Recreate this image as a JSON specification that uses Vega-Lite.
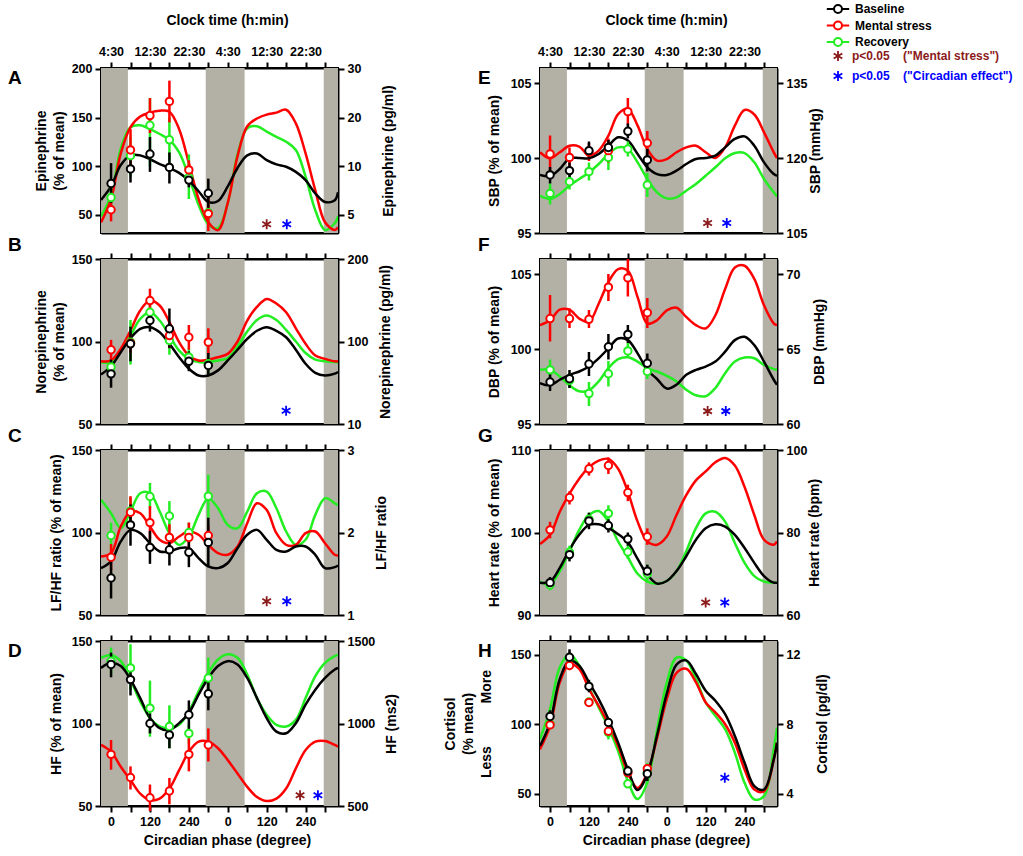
{
"$schema": "https://vega.github.io/schema/vega-lite/v6.json",
"padding": {"left": 7, "top": 1, "right": 1, "bottom": 1},
"background": "white",
"config": {
 "font": "Liberation Sans",
 "view": {"stroke": "black", "strokeWidth": 2},
 "axis": {"domainColor": "black", "domainWidth": 2, "tickColor": "black", "tickWidth": 2, "tickSize": 6, "labelFont": "Liberation Sans", "labelFontWeight": "bold", "labelFontSize": 12.5, "labelColor": "black", "labelPadding": 3, "labelFlush": false, "labelOverlap": false, "titleFont": "Liberation Sans", "titleFontWeight": "bold", "titleFontSize": 14, "titleColor": "black", "titleLineHeight": 18, "grid": false},
 "title": {"font": "Liberation Sans"}
},
"datasets": {
 "gy": [{"a": -31, "b": 52}, {"a": 292, "b": 412}, {"a": 656, "b": 700}],
 "st": [
  {"p":"A","s":"sm","x":480,"y":40},{"p":"A","s":"sc","x":542,"y":40},
  {"p":"B","s":"sc","x":540,"y":58},
  {"p":"C","s":"sm","x":480,"y":58.3},{"p":"C","s":"sc","x":542,"y":58.3},
  {"p":"D","s":"sm","x":583,"y":56.5},{"p":"D","s":"sc","x":638,"y":56.5},
  {"p":"E","s":"sm","x":486,"y":95.67},{"p":"E","s":"sc","x":545,"y":95.67},
  {"p":"F","s":"sm","x":486,"y":95.86},{"p":"F","s":"sc","x":542,"y":95.86},
  {"p":"G","s":"sm","x":480,"y":91.52},{"p":"G","s":"sc","x":539,"y":91.52},
  {"p":"H","s":"sc","x":539,"y":61.4}
 ],
 "pt": [
  {"p":"A","s":"r","x":0,"y":67.6,"lo":52,"hi":84},{"p":"A","s":"r","x":60,"y":110.7,"lo":89,"hi":130},{"p":"A","s":"r","x":120,"y":142,"lo":100,"hi":170},{"p":"A","s":"r","x":180,"y":127,"lo":105,"hi":150},{"p":"A","s":"r","x":240,"y":88,"lo":66,"hi":112},{"p":"A","s":"r","x":300,"y":52,"lo":44,"hi":62},
  {"p":"A","s":"m","x":0,"y":55,"lo":43,"hi":67},{"p":"A","s":"m","x":60,"y":116.6,"lo":95,"hi":138},{"p":"A","s":"m","x":120,"y":152,"lo":134,"hi":170},{"p":"A","s":"m","x":180,"y":166.6,"lo":145,"hi":188},{"p":"A","s":"m","x":240,"y":96,"lo":86,"hi":106},{"p":"A","s":"m","x":300,"y":51,"lo":33,"hi":69},
  {"p":"A","s":"b","x":0,"y":82,"lo":62,"hi":103},{"p":"A","s":"b","x":60,"y":97,"lo":83,"hi":111},{"p":"A","s":"b","x":120,"y":112.4,"lo":94,"hi":130},{"p":"A","s":"b","x":180,"y":98.6,"lo":82,"hi":114},{"p":"A","s":"b","x":240,"y":85.5,"lo":78,"hi":93},{"p":"A","s":"b","x":300,"y":72,"lo":57,"hi":87},

  {"p":"B","s":"r","x":0,"y":84.5,"lo":80,"hi":89},{"p":"B","s":"r","x":60,"y":99.6,"lo":86,"hi":113},{"p":"B","s":"r","x":120,"y":117.7,"lo":112,"hi":124},{"p":"B","s":"r","x":180,"y":100.6,"lo":92,"hi":108},{"p":"B","s":"r","x":240,"y":90.5,"lo":85,"hi":96},{"p":"B","s":"r","x":300,"y":86.5,"lo":81,"hi":92},
  {"p":"B","s":"m","x":0,"y":95,"lo":89,"hi":101},{"p":"B","s":"m","x":60,"y":99,"lo":93,"hi":105},{"p":"B","s":"m","x":120,"y":124.8,"lo":118,"hi":132},{"p":"B","s":"m","x":180,"y":103.6,"lo":96,"hi":111},{"p":"B","s":"m","x":240,"y":102.6,"lo":95,"hi":110},{"p":"B","s":"m","x":300,"y":99.6,"lo":92,"hi":108},
  {"p":"B","s":"b","x":0,"y":80.4,"lo":72,"hi":89},{"p":"B","s":"b","x":60,"y":98.6,"lo":88,"hi":109},{"p":"B","s":"b","x":120,"y":112.7,"lo":106,"hi":120},{"p":"B","s":"b","x":180,"y":107.7,"lo":96,"hi":120},{"p":"B","s":"b","x":240,"y":88,"lo":82,"hi":94},{"p":"B","s":"b","x":300,"y":85.5,"lo":79,"hi":93},

  {"p":"C","s":"r","x":0,"y":98.2,"lo":90,"hi":106},{"p":"C","s":"r","x":60,"y":113,"lo":105,"hi":121},{"p":"C","s":"r","x":120,"y":121.8,"lo":114,"hi":130},{"p":"C","s":"r","x":180,"y":110,"lo":101,"hi":119},{"p":"C","s":"r","x":240,"y":100,"lo":94,"hi":106},{"p":"C","s":"r","x":300,"y":122,"lo":109,"hi":135},
  {"p":"C","s":"m","x":0,"y":85,"lo":77,"hi":93},{"p":"C","s":"m","x":60,"y":112.3,"lo":103,"hi":122},{"p":"C","s":"m","x":120,"y":106,"lo":96,"hi":116},{"p":"C","s":"m","x":180,"y":97,"lo":89,"hi":105},{"p":"C","s":"m","x":240,"y":97,"lo":88,"hi":106},{"p":"C","s":"m","x":300,"y":98.2,"lo":92,"hi":104},
  {"p":"C","s":"b","x":0,"y":72.4,"lo":60,"hi":85},{"p":"C","s":"b","x":60,"y":104.6,"lo":92,"hi":117},{"p":"C","s":"b","x":120,"y":91,"lo":81,"hi":101},{"p":"C","s":"b","x":180,"y":89.5,"lo":80,"hi":99},{"p":"C","s":"b","x":240,"y":88,"lo":79,"hi":97},{"p":"C","s":"b","x":300,"y":94,"lo":79,"hi":109},

  {"p":"D","s":"r","x":0,"y":137.8,"lo":130,"hi":146},{"p":"D","s":"r","x":60,"y":133.7,"lo":120,"hi":148},{"p":"D","s":"r","x":120,"y":109.3,"lo":92,"hi":126},{"p":"D","s":"r","x":180,"y":98.2,"lo":85,"hi":111},{"p":"D","s":"r","x":240,"y":94,"lo":88,"hi":100},{"p":"D","s":"r","x":300,"y":127.6,"lo":115,"hi":140},
  {"p":"D","s":"m","x":0,"y":81.3,"lo":72,"hi":90},{"p":"D","s":"m","x":60,"y":67.3,"lo":60,"hi":74},{"p":"D","s":"m","x":120,"y":55,"lo":47,"hi":63},{"p":"D","s":"m","x":180,"y":59.1,"lo":51,"hi":67},{"p":"D","s":"m","x":240,"y":81.3,"lo":71,"hi":91},{"p":"D","s":"m","x":300,"y":87,"lo":77,"hi":97},
  {"p":"D","s":"b","x":0,"y":135.8,"lo":128,"hi":143},{"p":"D","s":"b","x":60,"y":126.6,"lo":117,"hi":136},{"p":"D","s":"b","x":120,"y":100,"lo":94,"hi":106},{"p":"D","s":"b","x":180,"y":93.1,"lo":85,"hi":101},{"p":"D","s":"b","x":240,"y":105.3,"lo":96,"hi":114},{"p":"D","s":"b","x":300,"y":118,"lo":108,"hi":128},

  {"p":"E","s":"r","x":0,"y":97.64,"lo":96.9,"hi":98.3},{"p":"E","s":"r","x":60,"y":98.42,"lo":97.9,"hi":98.9},{"p":"E","s":"r","x":120,"y":99.09,"lo":98.5,"hi":99.7},{"p":"E","s":"r","x":180,"y":100.04,"lo":99.2,"hi":100.9},{"p":"E","s":"r","x":240,"y":100.6,"lo":100.1,"hi":101.1},{"p":"E","s":"r","x":300,"y":98.2,"lo":97.4,"hi":99},
  {"p":"E","s":"m","x":0,"y":100.27,"lo":99.1,"hi":101.5},{"p":"E","s":"m","x":60,"y":100.04,"lo":99.4,"hi":100.7},{"p":"E","s":"m","x":120,"y":100.4,"lo":99.8,"hi":101},{"p":"E","s":"m","x":180,"y":100.49,"lo":99.7,"hi":101.3},{"p":"E","s":"m","x":240,"y":103.09,"lo":102.2,"hi":104},{"p":"E","s":"m","x":300,"y":101,"lo":100.2,"hi":101.8},
  {"p":"E","s":"b","x":0,"y":98.87,"lo":98.3,"hi":99.4},{"p":"E","s":"b","x":60,"y":99.16,"lo":98.7,"hi":99.7},{"p":"E","s":"b","x":120,"y":100.49,"lo":99.9,"hi":101.1},{"p":"E","s":"b","x":180,"y":100.7,"lo":100.2,"hi":101.2},{"p":"E","s":"b","x":240,"y":101.78,"lo":101.3,"hi":102.3},{"p":"E","s":"b","x":300,"y":99.87,"lo":99.1,"hi":100.6},

  {"p":"F","s":"r","x":0,"y":98.61,"lo":97.9,"hi":99.3},{"p":"F","s":"r","x":60,"y":97.9,"lo":97.4,"hi":98.4},{"p":"F","s":"r","x":120,"y":97.03,"lo":96.2,"hi":97.8},{"p":"F","s":"r","x":180,"y":98.35,"lo":97.5,"hi":99.2},{"p":"F","s":"r","x":240,"y":99.87,"lo":99.4,"hi":100.4},{"p":"F","s":"r","x":300,"y":98.5,"lo":98,"hi":99},
  {"p":"F","s":"m","x":0,"y":102.03,"lo":100.5,"hi":103.6},{"p":"F","s":"m","x":60,"y":102.03,"lo":101.4,"hi":102.7},{"p":"F","s":"m","x":120,"y":101.98,"lo":101.4,"hi":102.6},{"p":"F","s":"m","x":180,"y":104.12,"lo":103.2,"hi":105},{"p":"F","s":"m","x":240,"y":104.74,"lo":103.5,"hi":106},{"p":"F","s":"m","x":300,"y":102.42,"lo":101.4,"hi":103.4},
  {"p":"F","s":"b","x":0,"y":97.8,"lo":97.2,"hi":98.4},{"p":"F","s":"b","x":60,"y":98.02,"lo":97.4,"hi":98.6},{"p":"F","s":"b","x":120,"y":99,"lo":98.2,"hi":99.8},{"p":"F","s":"b","x":180,"y":100.15,"lo":99.3,"hi":101},{"p":"F","s":"b","x":240,"y":100.97,"lo":100.4,"hi":101.6},{"p":"F","s":"b","x":300,"y":99.05,"lo":98.4,"hi":99.7},

  {"p":"G","s":"r","x":0,"y":93.64,"lo":93,"hi":94.3},{"p":"G","s":"r","x":60,"y":97.6,"lo":96.8,"hi":98.4},{"p":"G","s":"r","x":120,"y":101.6,"lo":100.8,"hi":102.4},{"p":"G","s":"r","x":180,"y":102.32,"lo":101.3,"hi":103.3},{"p":"G","s":"r","x":240,"y":97.64,"lo":96.8,"hi":98.5},{"p":"G","s":"r","x":300,"y":95,"lo":93.9,"hi":96.1},
  {"p":"G","s":"m","x":0,"y":100.32,"lo":99.3,"hi":101.3},{"p":"G","s":"m","x":60,"y":104.24,"lo":103.4,"hi":105},{"p":"G","s":"m","x":120,"y":107.72,"lo":106.9,"hi":108.5},{"p":"G","s":"m","x":180,"y":108.12,"lo":107.1,"hi":109.1},{"p":"G","s":"m","x":240,"y":104.84,"lo":103.8,"hi":105.8},{"p":"G","s":"m","x":300,"y":99.48,"lo":98.5,"hi":100.5},
  {"p":"G","s":"b","x":0,"y":93.92,"lo":93.2,"hi":94.6},{"p":"G","s":"b","x":60,"y":97.32,"lo":96.5,"hi":98.1},{"p":"G","s":"b","x":120,"y":101.4,"lo":100.4,"hi":102.4},{"p":"G","s":"b","x":180,"y":100.84,"lo":100,"hi":101.6},{"p":"G","s":"b","x":240,"y":99.2,"lo":98.4,"hi":100},{"p":"G","s":"b","x":300,"y":95.32,"lo":94.5,"hi":96.1},

  {"p":"H","s":"r","x":0,"y":100,"lo":97,"hi":103},{"p":"H","s":"r","x":60,"y":148,"lo":145,"hi":151},{"p":"H","s":"r","x":120,"y":116,"lo":113,"hi":119},{"p":"H","s":"r","x":180,"y":94,"lo":89,"hi":98},{"p":"H","s":"r","x":240,"y":57,"lo":55,"hi":59},{"p":"H","s":"r","x":300,"y":65,"lo":58,"hi":72},
  {"p":"H","s":"m","x":0,"y":99.5,"lo":97,"hi":102},{"p":"H","s":"m","x":60,"y":142.3,"lo":139,"hi":145},{"p":"H","s":"m","x":120,"y":115.7,"lo":113,"hi":118},{"p":"H","s":"m","x":180,"y":94.9,"lo":92,"hi":98},{"p":"H","s":"m","x":240,"y":65,"lo":62,"hi":68},{"p":"H","s":"m","x":300,"y":67.9,"lo":64,"hi":71},
  {"p":"H","s":"b","x":0,"y":105.6,"lo":102,"hi":110},{"p":"H","s":"b","x":60,"y":148.3,"lo":143,"hi":154},{"p":"H","s":"b","x":120,"y":127.3,"lo":123,"hi":132},{"p":"H","s":"b","x":180,"y":101.2,"lo":98,"hi":104},{"p":"H","s":"b","x":240,"y":66.2,"lo":63,"hi":70},{"p":"H","s":"b","x":300,"y":64.3,"lo":59,"hi":68}
 ],
 "cv": [
  {"p":"A","x":-31,"b":65,"m":42,"r":48},{"p":"A","x":0,"b":79,"m":66,"r":70},{"p":"A","x":30,"b":101,"m":113,"r":118},{"p":"A","x":60,"b":111,"m":140,"r":140},{"p":"A","x":90,"b":111,"m":151,"r":142},{"p":"A","x":120,"b":107,"m":155,"r":138},{"p":"A","x":150,"b":102,"m":157,"r":133},{"p":"A","x":180,"b":98,"m":156,"r":127},{"p":"A","x":210,"b":93,"m":138,"r":114},{"p":"A","x":240,"b":85,"m":103,"r":89},{"p":"A","x":270,"b":74,"m":66,"r":60},{"p":"A","x":300,"b":63,"m":42,"r":40},{"p":"A","x":330,"b":64,"m":34,"r":36},{"p":"A","x":360,"b":79,"m":62,"r":62},{"p":"A","x":390,"b":98,"m":110,"r":112},{"p":"A","x":420,"b":111,"m":141,"r":139},{"p":"A","x":450,"b":113,"m":149,"r":141},{"p":"A","x":480,"b":106,"m":153,"r":135.5},{"p":"A","x":510,"b":101.7,"m":155,"r":130},{"p":"A","x":540,"b":99.3,"m":158,"r":125},{"p":"A","x":570,"b":94,"m":144,"r":116.6},{"p":"A","x":600,"b":85.5,"m":113,"r":89},{"p":"A","x":630,"b":71.7,"m":75,"r":54.5},{"p":"A","x":660,"b":63,"m":42,"r":34},{"p":"A","x":690,"b":64.8,"m":34,"r":41},{"p":"A","x":700,"b":73,"m":37,"r":48},

  {"p":"B","x":-31,"b":80,"m":88,"r":87.5},{"p":"B","x":0,"b":85,"m":88.5,"r":87.5},{"p":"B","x":30,"b":93.5,"m":95.6,"r":94.5},{"p":"B","x":60,"b":102,"m":106.7,"r":103.6},{"p":"B","x":90,"b":107.7,"m":118.8,"r":113.7},{"p":"B","x":120,"b":108.7,"m":124.8,"r":117.7},{"p":"B","x":150,"b":105.6,"m":121.8,"r":112.7},{"p":"B","x":180,"b":98.6,"m":111.7,"r":103.6},{"p":"B","x":210,"b":90.5,"m":99.6,"r":94.5},{"p":"B","x":240,"b":83.5,"m":91.5,"r":89.5},{"p":"B","x":270,"b":79.4,"m":88.5,"r":87.5},{"p":"B","x":300,"b":79.4,"m":89,"r":87.5},{"p":"B","x":330,"b":82.5,"m":90.5,"r":88.5},{"p":"B","x":360,"b":88.5,"m":92.5,"r":90},{"p":"B","x":390,"b":95,"m":100,"r":97},{"p":"B","x":420,"b":101.6,"m":112.7,"r":106},{"p":"B","x":450,"b":106.5,"m":121,"r":113},{"p":"B","x":480,"b":108.7,"m":125.8,"r":115.7},{"p":"B","x":510,"b":106.5,"m":123,"r":113},{"p":"B","x":540,"b":102.6,"m":117.7,"r":107},{"p":"B","x":570,"b":95,"m":108,"r":100},{"p":"B","x":600,"b":86.5,"m":98.6,"r":93},{"p":"B","x":630,"b":81,"m":91.5,"r":89},{"p":"B","x":660,"b":79.4,"m":89.5,"r":88},{"p":"B","x":690,"b":80.5,"m":88,"r":87.5},{"p":"B","x":700,"b":81.5,"m":88,"r":87.5},

  {"p":"C","x":-31,"b":78.4,"m":85.5,"r":119.8},{"p":"C","x":0,"b":82.5,"m":87.5,"r":111.7},{"p":"C","x":30,"b":94.6,"m":103.6,"r":102.6},{"p":"C","x":60,"b":101.6,"m":112.7,"r":112.7},{"p":"C","x":90,"b":99.6,"m":111.7,"r":123.8},{"p":"C","x":120,"b":93.5,"m":103.6,"r":123.8},{"p":"C","x":150,"b":88.5,"m":95.6,"r":112.7},{"p":"C","x":180,"b":88.5,"m":93.5,"r":99.6},{"p":"C","x":210,"b":90.5,"m":97.6,"r":92.5},{"p":"C","x":240,"b":90.5,"m":100.6,"r":97.6},{"p":"C","x":270,"b":84.5,"m":98.6,"r":110.7},{"p":"C","x":300,"b":79.4,"m":92.5,"r":120.8},{"p":"C","x":330,"b":78.4,"m":87.5,"r":114.7},{"p":"C","x":360,"b":81.5,"m":86.5,"r":104.6},{"p":"C","x":390,"b":90.5,"m":91.5,"r":102.6},{"p":"C","x":420,"b":98.6,"m":105.6,"r":112.7},{"p":"C","x":450,"b":101.6,"m":117.7,"r":123.8},{"p":"C","x":480,"b":95.6,"m":113.7,"r":124.8},{"p":"C","x":510,"b":89.5,"m":99.6,"r":114.7},{"p":"C","x":540,"b":88.5,"m":92.5,"r":100.6},{"p":"C","x":570,"b":91.5,"m":92.5,"r":92.5},{"p":"C","x":600,"b":91.5,"m":99.6,"r":95.6},{"p":"C","x":630,"b":86.5,"m":100.6,"r":110.7},{"p":"C","x":660,"b":78.4,"m":93.5,"r":120.8},{"p":"C","x":690,"b":79,"m":86.5,"r":117.7},{"p":"C","x":700,"b":80,"m":86,"r":116.5},

  {"p":"D","x":-31,"b":133.7,"m":87,"r":139.8},{"p":"D","x":0,"b":136.8,"m":82.9,"r":141.5},{"p":"D","x":30,"b":134.8,"m":73.8,"r":137.8},{"p":"D","x":60,"b":126.6,"m":65.7,"r":126.6},{"p":"D","x":90,"b":115.4,"m":57.5,"r":113.4},{"p":"D","x":120,"b":103.3,"m":53.5,"r":103.3},{"p":"D","x":150,"b":97.2,"m":54.5,"r":98.2},{"p":"D","x":180,"b":96.1,"m":60.6,"r":97.2},{"p":"D","x":210,"b":100.2,"m":71.7,"r":99.2},{"p":"D","x":240,"b":106.3,"m":82.9,"r":107.3},{"p":"D","x":270,"b":117.5,"m":89,"r":119.5},{"p":"D","x":300,"b":127.6,"m":89,"r":130.7},{"p":"D","x":330,"b":134.8,"m":85,"r":138.8},{"p":"D","x":360,"b":137.8,"m":77.8,"r":141.9},{"p":"D","x":390,"b":135.8,"m":69.7,"r":139.8},{"p":"D","x":420,"b":127.6,"m":61.6,"r":129.7},{"p":"D","x":450,"b":115.4,"m":55.5,"r":115.4},{"p":"D","x":480,"b":103.3,"m":53,"r":105.3},{"p":"D","x":510,"b":95.1,"m":54.5,"r":99.2},{"p":"D","x":540,"b":94.1,"m":60.6,"r":98.2},{"p":"D","x":570,"b":100.2,"m":72.8,"r":102.2},{"p":"D","x":600,"b":111.4,"m":83.9,"r":115.4},{"p":"D","x":630,"b":120.5,"m":89,"r":128.7},{"p":"D","x":660,"b":127.6,"m":89.4,"r":136.8},{"p":"D","x":690,"b":132.7,"m":87,"r":140.9},{"p":"D","x":700,"b":133.7,"m":86,"r":141.5},

  {"p":"E","x":-31,"b":98.87,"m":100.38,"r":97.49},{"p":"E","x":0,"b":98.8,"m":99.98,"r":97.27},{"p":"E","x":30,"b":99.27,"m":100.38,"r":97.6},{"p":"E","x":60,"b":99.98,"m":100.82,"r":98.16},{"p":"E","x":90,"b":100,"m":100.76,"r":98.6},{"p":"E","x":120,"b":99.98,"m":100.16,"r":99.04},{"p":"E","x":150,"b":100.27,"m":100.49,"r":99.6},{"p":"E","x":180,"b":100.82,"m":101.49,"r":100.27},{"p":"E","x":210,"b":101.38,"m":102.93,"r":100.71},{"p":"E","x":240,"b":101.16,"m":103.27,"r":100.6},{"p":"E","x":270,"b":100.27,"m":102.16,"r":99.71},{"p":"E","x":300,"b":99.38,"m":100.6,"r":98.6},{"p":"E","x":330,"b":98.93,"m":99.82,"r":97.71},{"p":"E","x":360,"b":98.87,"m":99.93,"r":97.31},{"p":"E","x":390,"b":99.16,"m":100.38,"r":97.38},{"p":"E","x":420,"b":99.6,"m":100.71,"r":97.82},{"p":"E","x":450,"b":99.93,"m":100.82,"r":98.27},{"p":"E","x":480,"b":100,"m":100.38,"r":98.82},{"p":"E","x":510,"b":100.16,"m":100,"r":99.38},{"p":"E","x":540,"b":100.71,"m":100.71,"r":99.98},{"p":"E","x":570,"b":101.27,"m":102.16,"r":100.33},{"p":"E","x":600,"b":101.44,"m":103.2,"r":100.33},{"p":"E","x":630,"b":100.82,"m":102.9,"r":99.71},{"p":"E","x":660,"b":99.71,"m":101.71,"r":98.6},{"p":"E","x":690,"b":98.93,"m":100.38,"r":97.71},{"p":"E","x":700,"b":98.82,"m":100,"r":97.44},

  {"p":"F","x":-31,"b":97.73,"m":101.59,"r":98.61},{"p":"F","x":0,"b":97.58,"m":101.92,"r":98.61},{"p":"F","x":30,"b":97.95,"m":102.62,"r":98.17},{"p":"F","x":60,"b":98.28,"m":102.62,"r":97.58},{"p":"F","x":90,"b":98.5,"m":102.03,"r":97.18},{"p":"F","x":120,"b":98.83,"m":101.81,"r":97.25},{"p":"F","x":150,"b":99.38,"m":103.02,"r":97.84},{"p":"F","x":180,"b":100.04,"m":104.45,"r":98.72},{"p":"F","x":210,"b":100.7,"m":105.33,"r":99.32},{"p":"F","x":240,"b":100.59,"m":105.22,"r":99.45},{"p":"F","x":270,"b":99.71,"m":103.46,"r":99.16},{"p":"F","x":300,"b":98.61,"m":101.7,"r":98.72},{"p":"F","x":330,"b":98,"m":101.92,"r":98.5},{"p":"F","x":360,"b":97.36,"m":102.58,"r":98.21},{"p":"F","x":390,"b":97.62,"m":102.75,"r":97.84},{"p":"F","x":420,"b":98.28,"m":102.14,"r":97.29},{"p":"F","x":450,"b":98.61,"m":101.59,"r":96.92},{"p":"F","x":480,"b":98.83,"m":101.37,"r":96.85},{"p":"F","x":510,"b":99.16,"m":102.25,"r":97.4},{"p":"F","x":540,"b":99.82,"m":104,"r":98.39},{"p":"F","x":570,"b":100.59,"m":105.44,"r":99.16},{"p":"F","x":600,"b":100.81,"m":105.55,"r":99.43},{"p":"F","x":630,"b":100.26,"m":104.67,"r":99.38},{"p":"F","x":660,"b":99.16,"m":102.91,"r":98.94},{"p":"F","x":690,"b":97.95,"m":101.7,"r":98.66},{"p":"F","x":700,"b":97.62,"m":101.59,"r":98.61},

  {"p":"G","x":-31,"b":93.92,"m":98.6,"r":94.04},{"p":"G","x":0,"b":94.04,"m":99.72,"r":93.72},{"p":"G","x":30,"b":95.72,"m":102.52,"r":95.32},{"p":"G","x":60,"b":97.92,"m":104.72,"r":97.72},{"p":"G","x":90,"b":99.72,"m":106.52,"r":100.32},{"p":"G","x":120,"b":100.92,"m":107.92,"r":102.12},{"p":"G","x":150,"b":101,"m":108.72,"r":102.6},{"p":"G","x":180,"b":100.52,"m":108.92,"r":101.32},{"p":"G","x":210,"b":99.8,"m":107.72,"r":98.92},{"p":"G","x":240,"b":98.8,"m":104.92,"r":97},{"p":"G","x":270,"b":96.8,"m":101.32,"r":95},{"p":"G","x":300,"b":94.9,"m":98.92,"r":94.04},{"p":"G","x":330,"b":93.8,"m":98.52,"r":93.8},{"p":"G","x":360,"b":94.12,"m":99.52,"r":94.12},{"p":"G","x":390,"b":95.32,"m":102.12,"r":95.32},{"p":"G","x":420,"b":97.12,"m":104.52,"r":97.72},{"p":"G","x":450,"b":99.12,"m":106.32,"r":100.52},{"p":"G","x":480,"b":100.52,"m":107.4,"r":102.32},{"p":"G","x":510,"b":101,"m":108.52,"r":102.52},{"p":"G","x":540,"b":100.72,"m":109.04,"r":101.32},{"p":"G","x":570,"b":99.72,"m":108.12,"r":98.72},{"p":"G","x":600,"b":98.12,"m":105.52,"r":96.32},{"p":"G","x":630,"b":96.32,"m":102.12,"r":94.72},{"p":"G","x":660,"b":94.72,"m":99.12,"r":94.04},{"p":"G","x":690,"b":93.92,"m":98.52,"r":93.92},{"p":"G","x":700,"b":93.92,"m":98.92,"r":93.92},

  {"p":"H","x":-31,"b":84.3,"m":81.9,"r":89.1},{"p":"H","x":0,"b":101.2,"m":98.8,"r":110.9},{"p":"H","x":30,"b":132.6,"m":130.2,"r":141.1},{"p":"H","x":60,"b":145.9,"m":143.5,"r":150.7},{"p":"H","x":90,"b":142.3,"m":139.9,"r":142.3},{"p":"H","x":120,"b":130.2,"m":125.4,"r":126.6},{"p":"H","x":150,"b":118.1,"m":113.3,"r":112.1},{"p":"H","x":180,"b":103.6,"m":100,"r":97.6},{"p":"H","x":210,"b":86.7,"m":84.3,"r":80.7},{"p":"H","x":240,"b":67.4,"m":65,"r":58.9},{"p":"H","x":270,"b":52.5,"m":54,"r":46},{"p":"H","x":300,"b":64,"m":65,"r":58},{"p":"H","x":330,"b":92,"m":90,"r":96},{"p":"H","x":360,"b":122,"m":118,"r":130},{"p":"H","x":390,"b":143,"m":137,"r":148},{"p":"H","x":420,"b":146,"m":140,"r":146},{"p":"H","x":450,"b":136.2,"m":130.2,"r":132.6},{"p":"H","x":480,"b":124.2,"m":115.7,"r":115.7},{"p":"H","x":510,"b":116.9,"m":108.5,"r":106},{"p":"H","x":540,"b":107.2,"m":100,"r":96.4},{"p":"H","x":570,"b":91.5,"m":86.7,"r":79.5},{"p":"H","x":600,"b":72.2,"m":67.4,"r":57.7},{"p":"H","x":630,"b":55.3,"m":52.9,"r":45.7},{"p":"H","x":660,"b":52.9,"m":51.7,"r":48.1},{"p":"H","x":690,"b":74.6,"m":74.6,"r":81.9},{"p":"H","x":700,"b":86.7,"m":86.7,"r":97.6}
 ]
},
"columns": 2,
"bounds": "flush",
"spacing": {"row": 26, "column": 202},
"concat": [
 {"width": 237, "height": 165,
  "title": {"text": "A", "anchor": "start", "frame": "group", "dx": -93, "dy": 75, "baseline": "top", "fontSize": 19, "fontWeight": "bold", "offset": 0, "color": "black"},
  "layer": [
   {"data": {"name": "gy"}, "mark": {"type": "rect", "color": "#b3b1a6"}, "encoding": {"x": {"field": "a", "type": "quantitative", "scale": {"domain": [-31, 700], "nice": false, "zero": false}, "axis": {"orient": "top", "values": [0,60,120,180,240,300,360,420,480,540,600,660], "labelExpr": "datum.value % 120 == 0 ? ['4:30','12:30','22:30'][(datum.value % 360) / 120] : ''", "title": "Clock time (h:min)", "titleX": 126, "titlePadding": 18, "labelPadding": 4}}, "x2": {"field": "b"}}},
   {"data": {"name": "cv"}, "transform": [{"filter": "datum.p == 'A'"}, {"fold": ["r","m","b"], "as": ["s","y"]}], "mark": {"type": "line", "interpolate": "catmull-rom", "strokeWidth": 2.5, "clip": true}, "encoding": {"x": {"field": "x", "type": "quantitative", "axis": {"orient": "bottom", "ticks": false, "labels": false, "title": null}}, "y": {"field": "y", "type": "quantitative", "scale": {"domain": [31, 201], "nice": false, "zero": false}, "axis": {"orient": "left", "values": [50,100,150,200], "title": ["Epinephrine", "(% of mean)"], "titleAngle": 270, "titleBaseline": "bottom", "titleX": -53}},
     "stroke": {"field": "s", "type": "nominal", "scale": {"domain": ["b","m","r"], "range": ["#000000","#ff0000","#22ee22"]},
      "legend": {"orient": "none", "legendX": 729, "legendY": -67, "title": null, "padding": 0, "symbolSize": 196, "symbolStrokeWidth": 2, "symbolFillColor": "white", "symbolOpacity": 1, "labelOffset": 9, "rowPadding": 0.5, "labelFont": "Liberation Sans", "labelFontSize": 12, "labelFontWeight": "bold", "labelColor": "black", "labelLimit": 300,
       "labelExpr": "datum.value == 'b' ? 'Baseline' : datum.value == 'm' ? 'Mental stress' : 'Recovery'",
       "symbolType": "M-1.6,0L-0.57,0M0.57,0L1.6,0M0.57,0A0.57,0.57,0,1,1,-0.57,0A0.57,0.57,0,1,1,0.57,0"}}}},
   {"data": {"name": "pt"}, "transform": [{"filter": "datum.p == 'A'"}], "mark": {"type": "rule", "strokeWidth": 2.5}, "encoding": {"x": {"field": "x", "type": "quantitative", "axis": null}, "y": {"field": "lo", "type": "quantitative", "axis": null}, "y2": {"field": "hi"}, "stroke": {"field": "s", "type": "nominal", "legend": null}}},
   {"data": {"name": "pt"}, "transform": [{"filter": "datum.p == 'A'"}], "mark": {"type": "point", "shape": "circle", "filled": false, "fill": "white", "size": 55, "strokeWidth": 2, "opacity": 1}, "encoding": {"x": {"field": "x", "type": "quantitative", "axis": null}, "y": {"field": "y", "type": "quantitative", "axis": {"orient": "right", "values": [50,100,150,200], "labelExpr": "datum.value == 200 ? '30' : datum.value == 150 ? '20' : datum.value == 100 ? '10' : '5'", "title": "Epinephrine (pg/ml)", "titleAngle": 270, "titleBaseline": "top", "titleX": 43}}, "stroke": {"field": "s", "type": "nominal", "legend": null}}},
   {"data": {"name": "st"}, "transform": [{"filter": "datum.p == 'A' && datum.s == 'sm'"}], "mark": {"type": "point", "shape": "M-0.18,-1L0.18,-1L0.18,1L-0.18,1ZM0.776,-0.656L0.956,-0.344L-0.776,0.656L-0.956,0.344ZM-0.956,-0.344L-0.776,-0.656L0.956,0.344L0.776,0.656Z", "filled": true, "size": 100, "strokeWidth": 0, "opacity": 1}, "encoding": {"x": {"field": "x", "type": "quantitative", "axis": null}, "y": {"field": "y", "type": "quantitative", "axis": null},
     "fill": {"field": "s", "type": "nominal", "scale": {"domain": ["sm"], "range": ["#8b1a1a"]},
      "legend": {"orient": "none", "legendX": 731, "legendY": -18, "title": null, "padding": 0, "symbolSize": 100, "symbolType": "M-0.18,-1L0.18,-1L0.18,1L-0.18,1ZM0.776,-0.656L0.956,-0.344L-0.776,0.656L-0.956,0.344ZM-0.956,-0.344L-0.776,-0.656L0.956,0.344L0.776,0.656Z", "symbolStrokeWidth": 0, "symbolOpacity": 1, "labelOffset": 8, "labelFont": "Liberation Sans", "labelFontSize": 12, "labelFontWeight": "bold", "labelColor": "#8b1a1a", "labelLimit": 300, "labelExpr": "'p<0.05\u00a0\u00a0\u00a0\u00a0(\"Mental stress\")'"}}}},
   {"data": {"name": "st"}, "transform": [{"filter": "datum.p == 'A' && datum.s == 'sc'"}], "mark": {"type": "point", "filled": true, "color": "#0000ff", "size": 100, "strokeWidth": 0, "opacity": 1}, "encoding": {"x": {"field": "x", "type": "quantitative", "axis": null}, "y": {"field": "y", "type": "quantitative", "axis": null},
     "shape": {"field": "s", "type": "nominal", "scale": {"domain": ["sc"], "range": ["M-0.18,-1L0.18,-1L0.18,1L-0.18,1ZM0.776,-0.656L0.956,-0.344L-0.776,0.656L-0.956,0.344ZM-0.956,-0.344L-0.776,-0.656L0.956,0.344L0.776,0.656Z"]},
      "legend": {"orient": "none", "legendX": 731, "legendY": 2, "title": null, "padding": 0, "symbolSize": 100, "symbolFillColor": "#0000ff", "symbolStrokeColor": "#0000ff", "symbolStrokeWidth": 0, "symbolOpacity": 1, "labelOffset": 8, "labelFont": "Liberation Sans", "labelFontSize": 12, "labelFontWeight": "bold", "labelColor": "#0000ff", "labelLimit": 300, "labelExpr": "'p<0.05\u00a0\u00a0\u00a0\u00a0(\"Circadian effect\")'"}}}}
  ],
  "resolve": {"axis": {"x": "independent", "y": "independent"}}
 },
 {"width": 237, "height": 165,
  "title": {"text": "E", "anchor": "start", "frame": "group", "dx": -62, "dy": 75, "baseline": "top", "fontSize": 19, "fontWeight": "bold", "offset": 0, "color": "black"},
  "layer": [
   {"data": {"name": "gy"}, "mark": {"type": "rect", "color": "#b3b1a6"}, "encoding": {"x": {"field": "a", "type": "quantitative", "scale": {"domain": [-31, 700], "nice": false, "zero": false}, "axis": {"orient": "top", "values": [0,60,120,180,240,300,360,420,480,540,600,660], "labelExpr": "datum.value % 120 == 0 ? ['4:30','12:30','22:30'][(datum.value % 360) / 120] : ''", "title": "Clock time (h:min)", "titleX": 126, "titlePadding": 18, "labelPadding": 4}}, "x2": {"field": "b"}}},
   {"data": {"name": "cv"}, "transform": [{"filter": "datum.p == 'E'"}, {"fold": ["r","m","b"], "as": ["s","y"]}], "mark": {"type": "line", "interpolate": "catmull-rom", "strokeWidth": 2.5, "clip": true}, "encoding": {"x": {"field": "x", "type": "quantitative", "axis": {"orient": "bottom", "ticks": false, "labels": false, "title": null}}, "y": {"field": "y", "type": "quantitative", "scale": {"domain": [95, 106], "nice": false, "zero": false}, "axis": {"orient": "left", "values": [95,100,105], "title": "SBP (% of mean)", "titleAngle": 270, "titleBaseline": "bottom", "titleX": -39}}, "stroke": {"field": "s", "type": "nominal", "legend": null}}},
   {"data": {"name": "pt"}, "transform": [{"filter": "datum.p == 'E'"}], "mark": {"type": "rule", "strokeWidth": 2.5}, "encoding": {"x": {"field": "x", "type": "quantitative", "axis": null}, "y": {"field": "lo", "type": "quantitative", "axis": null}, "y2": {"field": "hi"}, "stroke": {"field": "s", "type": "nominal", "legend": null}}},
   {"data": {"name": "pt"}, "transform": [{"filter": "datum.p == 'E'"}], "mark": {"type": "point", "shape": "circle", "filled": false, "fill": "white", "size": 55, "strokeWidth": 2, "opacity": 1}, "encoding": {"x": {"field": "x", "type": "quantitative", "axis": null}, "y": {"field": "y", "type": "quantitative", "axis": {"orient": "right", "values": [95,100,105], "labelExpr": "datum.value == 105 ? '135' : datum.value == 100 ? '120' : '105'", "title": "SBP (mmHg)", "titleAngle": 270, "titleBaseline": "top", "titleX": 31}}, "stroke": {"field": "s", "type": "nominal", "legend": null}}},
   {"data": {"name": "st"}, "transform": [{"filter": "datum.p == 'E' && datum.s == 'sm'"}], "mark": {"type": "point", "shape": "M-0.18,-1L0.18,-1L0.18,1L-0.18,1ZM0.776,-0.656L0.956,-0.344L-0.776,0.656L-0.956,0.344ZM-0.956,-0.344L-0.776,-0.656L0.956,0.344L0.776,0.656Z", "filled": true, "size": 100, "strokeWidth": 0, "opacity": 1}, "encoding": {"x": {"field": "x", "type": "quantitative", "axis": null}, "y": {"field": "y", "type": "quantitative", "axis": null}, "fill": {"field": "s", "type": "nominal", "legend": null}}},
   {"data": {"name": "st"}, "transform": [{"filter": "datum.p == 'E' && datum.s == 'sc'"}], "mark": {"type": "point", "filled": true, "color": "#0000ff", "size": 100, "strokeWidth": 0, "opacity": 1}, "encoding": {"x": {"field": "x", "type": "quantitative", "axis": null}, "y": {"field": "y", "type": "quantitative", "axis": null}, "shape": {"field": "s", "type": "nominal", "legend": null}}}
  ],
  "resolve": {"axis": {"x": "independent", "y": "independent"}}
 },
 {"width": 237, "height": 165,
  "title": {"text": "B", "anchor": "start", "frame": "group", "dx": -93, "dy": 3, "baseline": "top", "fontSize": 19, "fontWeight": "bold", "offset": 0, "color": "black"},
  "layer": [
   {"data": {"name": "gy"}, "mark": {"type": "rect", "color": "#b3b1a6"}, "encoding": {"x": {"field": "a", "type": "quantitative", "scale": {"domain": [-31, 700], "nice": false, "zero": false}, "axis": {"orient": "top", "values": [0,60,120,180,240,300,360,420,480,540,600,660], "labels": false, "title": null}}, "x2": {"field": "b"}}},
   {"data": {"name": "cv"}, "transform": [{"filter": "datum.p == 'B'"}, {"fold": ["r","m","b"], "as": ["s","y"]}], "mark": {"type": "line", "interpolate": "catmull-rom", "strokeWidth": 2.5, "clip": true}, "encoding": {"x": {"field": "x", "type": "quantitative", "axis": {"orient": "bottom", "ticks": false, "labels": false, "title": null}}, "y": {"field": "y", "type": "quantitative", "scale": {"domain": [50, 150], "nice": false, "zero": false}, "axis": {"orient": "left", "values": [50,100,150], "title": ["Norepinephrine", "(% of mean)"], "titleAngle": 270, "titleBaseline": "bottom", "titleX": -53}}, "stroke": {"field": "s", "type": "nominal", "legend": null}}},
   {"data": {"name": "pt"}, "transform": [{"filter": "datum.p == 'B'"}], "mark": {"type": "rule", "strokeWidth": 2.5}, "encoding": {"x": {"field": "x", "type": "quantitative", "axis": null}, "y": {"field": "lo", "type": "quantitative", "axis": null}, "y2": {"field": "hi"}, "stroke": {"field": "s", "type": "nominal", "legend": null}}},
   {"data": {"name": "pt"}, "transform": [{"filter": "datum.p == 'B'"}], "mark": {"type": "point", "shape": "circle", "filled": false, "fill": "white", "size": 55, "strokeWidth": 2, "opacity": 1}, "encoding": {"x": {"field": "x", "type": "quantitative", "axis": null}, "y": {"field": "y", "type": "quantitative", "axis": {"orient": "right", "values": [50,100,150], "labelExpr": "datum.value == 150 ? '200' : datum.value == 100 ? '100' : '10'", "title": "Norepinephrine (pg/ml)", "titleAngle": 270, "titleBaseline": "top", "titleX": 40}}, "stroke": {"field": "s", "type": "nominal", "legend": null}}},
   {"data": {"name": "st"}, "transform": [{"filter": "datum.p == 'B' && datum.s == 'sc'"}], "mark": {"type": "point", "filled": true, "color": "#0000ff", "size": 100, "strokeWidth": 0, "opacity": 1}, "encoding": {"x": {"field": "x", "type": "quantitative", "axis": null}, "y": {"field": "y", "type": "quantitative", "axis": null}, "shape": {"field": "s", "type": "nominal", "legend": null}}}
  ],
  "resolve": {"axis": {"x": "independent", "y": "independent"}}
 },
 {"width": 237, "height": 165,
  "title": {"text": "F", "anchor": "start", "frame": "group", "dx": -62, "dy": 3, "baseline": "top", "fontSize": 19, "fontWeight": "bold", "offset": 0, "color": "black"},
  "layer": [
   {"data": {"name": "gy"}, "mark": {"type": "rect", "color": "#b3b1a6"}, "encoding": {"x": {"field": "a", "type": "quantitative", "scale": {"domain": [-31, 700], "nice": false, "zero": false}, "axis": {"orient": "top", "values": [0,60,120,180,240,300,360,420,480,540,600,660], "labels": false, "title": null}}, "x2": {"field": "b"}}},
   {"data": {"name": "cv"}, "transform": [{"filter": "datum.p == 'F'"}, {"fold": ["r","m","b"], "as": ["s","y"]}], "mark": {"type": "line", "interpolate": "catmull-rom", "strokeWidth": 2.5, "clip": true}, "encoding": {"x": {"field": "x", "type": "quantitative", "axis": {"orient": "bottom", "ticks": false, "labels": false, "title": null}}, "y": {"field": "y", "type": "quantitative", "scale": {"domain": [95, 106], "nice": false, "zero": false}, "axis": {"orient": "left", "values": [95,100,105], "title": "DBP (% of mean)", "titleAngle": 270, "titleBaseline": "bottom", "titleX": -39}}, "stroke": {"field": "s", "type": "nominal", "legend": null}}},
   {"data": {"name": "pt"}, "transform": [{"filter": "datum.p == 'F'"}], "mark": {"type": "rule", "strokeWidth": 2.5}, "encoding": {"x": {"field": "x", "type": "quantitative", "axis": null}, "y": {"field": "lo", "type": "quantitative", "axis": null}, "y2": {"field": "hi"}, "stroke": {"field": "s", "type": "nominal", "legend": null}}},
   {"data": {"name": "pt"}, "transform": [{"filter": "datum.p == 'F'"}], "mark": {"type": "point", "shape": "circle", "filled": false, "fill": "white", "size": 55, "strokeWidth": 2, "opacity": 1}, "encoding": {"x": {"field": "x", "type": "quantitative", "axis": null}, "y": {"field": "y", "type": "quantitative", "axis": {"orient": "right", "values": [95,100,105], "labelExpr": "datum.value == 105 ? '70' : datum.value == 100 ? '65' : '60'", "title": "DBP (mmHg)", "titleAngle": 270, "titleBaseline": "top", "titleX": 35}}, "stroke": {"field": "s", "type": "nominal", "legend": null}}},
   {"data": {"name": "st"}, "transform": [{"filter": "datum.p == 'F' && datum.s == 'sm'"}], "mark": {"type": "point", "shape": "M-0.18,-1L0.18,-1L0.18,1L-0.18,1ZM0.776,-0.656L0.956,-0.344L-0.776,0.656L-0.956,0.344ZM-0.956,-0.344L-0.776,-0.656L0.956,0.344L0.776,0.656Z", "filled": true, "size": 100, "strokeWidth": 0, "opacity": 1}, "encoding": {"x": {"field": "x", "type": "quantitative", "axis": null}, "y": {"field": "y", "type": "quantitative", "axis": null}, "fill": {"field": "s", "type": "nominal", "legend": null}}},
   {"data": {"name": "st"}, "transform": [{"filter": "datum.p == 'F' && datum.s == 'sc'"}], "mark": {"type": "point", "filled": true, "color": "#0000ff", "size": 100, "strokeWidth": 0, "opacity": 1}, "encoding": {"x": {"field": "x", "type": "quantitative", "axis": null}, "y": {"field": "y", "type": "quantitative", "axis": null}, "shape": {"field": "s", "type": "nominal", "legend": null}}}
  ],
  "resolve": {"axis": {"x": "independent", "y": "independent"}}
 },
 {"width": 237, "height": 165,
  "title": {"text": "C", "anchor": "start", "frame": "group", "dx": -93, "dy": 3, "baseline": "top", "fontSize": 19, "fontWeight": "bold", "offset": 0, "color": "black"},
  "layer": [
   {"data": {"name": "gy"}, "mark": {"type": "rect", "color": "#b3b1a6"}, "encoding": {"x": {"field": "a", "type": "quantitative", "scale": {"domain": [-31, 700], "nice": false, "zero": false}, "axis": {"orient": "top", "values": [0,60,120,180,240,300,360,420,480,540,600,660], "labels": false, "title": null}}, "x2": {"field": "b"}}},
   {"data": {"name": "cv"}, "transform": [{"filter": "datum.p == 'C'"}, {"fold": ["r","m","b"], "as": ["s","y"]}], "mark": {"type": "line", "interpolate": "catmull-rom", "strokeWidth": 2.5, "clip": true}, "encoding": {"x": {"field": "x", "type": "quantitative", "axis": {"orient": "bottom", "ticks": false, "labels": false, "title": null}}, "y": {"field": "y", "type": "quantitative", "scale": {"domain": [50, 150], "nice": false, "zero": false}, "axis": {"orient": "left", "values": [50,100,150], "title": "LF/HF ratio (% of mean)", "titleAngle": 270, "titleBaseline": "bottom", "titleX": -38}}, "stroke": {"field": "s", "type": "nominal", "legend": null}}},
   {"data": {"name": "pt"}, "transform": [{"filter": "datum.p == 'C'"}], "mark": {"type": "rule", "strokeWidth": 2.5}, "encoding": {"x": {"field": "x", "type": "quantitative", "axis": null}, "y": {"field": "lo", "type": "quantitative", "axis": null}, "y2": {"field": "hi"}, "stroke": {"field": "s", "type": "nominal", "legend": null}}},
   {"data": {"name": "pt"}, "transform": [{"filter": "datum.p == 'C'"}], "mark": {"type": "point", "shape": "circle", "filled": false, "fill": "white", "size": 55, "strokeWidth": 2, "opacity": 1}, "encoding": {"x": {"field": "x", "type": "quantitative", "axis": null}, "y": {"field": "y", "type": "quantitative", "axis": {"orient": "right", "values": [50,100,150], "labelExpr": "datum.value == 150 ? '3' : datum.value == 100 ? '2' : '1'", "title": "LF/HF ratio", "titleAngle": 270, "titleBaseline": "top", "titleX": 36}}, "stroke": {"field": "s", "type": "nominal", "legend": null}}},
   {"data": {"name": "st"}, "transform": [{"filter": "datum.p == 'C' && datum.s == 'sm'"}], "mark": {"type": "point", "shape": "M-0.18,-1L0.18,-1L0.18,1L-0.18,1ZM0.776,-0.656L0.956,-0.344L-0.776,0.656L-0.956,0.344ZM-0.956,-0.344L-0.776,-0.656L0.956,0.344L0.776,0.656Z", "filled": true, "size": 100, "strokeWidth": 0, "opacity": 1}, "encoding": {"x": {"field": "x", "type": "quantitative", "axis": null}, "y": {"field": "y", "type": "quantitative", "axis": null}, "fill": {"field": "s", "type": "nominal", "legend": null}}},
   {"data": {"name": "st"}, "transform": [{"filter": "datum.p == 'C' && datum.s == 'sc'"}], "mark": {"type": "point", "filled": true, "color": "#0000ff", "size": 100, "strokeWidth": 0, "opacity": 1}, "encoding": {"x": {"field": "x", "type": "quantitative", "axis": null}, "y": {"field": "y", "type": "quantitative", "axis": null}, "shape": {"field": "s", "type": "nominal", "legend": null}}}
  ],
  "resolve": {"axis": {"x": "independent", "y": "independent"}}
 },
 {"width": 237, "height": 165,
  "title": {"text": "G", "anchor": "start", "frame": "group", "dx": -62, "dy": 3, "baseline": "top", "fontSize": 19, "fontWeight": "bold", "offset": 0, "color": "black"},
  "layer": [
   {"data": {"name": "gy"}, "mark": {"type": "rect", "color": "#b3b1a6"}, "encoding": {"x": {"field": "a", "type": "quantitative", "scale": {"domain": [-31, 700], "nice": false, "zero": false}, "axis": {"orient": "top", "values": [0,60,120,180,240,300,360,420,480,540,600,660], "labels": false, "title": null}}, "x2": {"field": "b"}}},
   {"data": {"name": "cv"}, "transform": [{"filter": "datum.p == 'G'"}, {"fold": ["r","m","b"], "as": ["s","y"]}], "mark": {"type": "line", "interpolate": "catmull-rom", "strokeWidth": 2.5, "clip": true}, "encoding": {"x": {"field": "x", "type": "quantitative", "axis": {"orient": "bottom", "ticks": false, "labels": false, "title": null}}, "y": {"field": "y", "type": "quantitative", "scale": {"domain": [90, 110], "nice": false, "zero": false}, "axis": {"orient": "left", "values": [90,100,110], "title": "Heart rate (% of mean)", "titleAngle": 270, "titleBaseline": "bottom", "titleX": -39}}, "stroke": {"field": "s", "type": "nominal", "legend": null}}},
   {"data": {"name": "pt"}, "transform": [{"filter": "datum.p == 'G'"}], "mark": {"type": "rule", "strokeWidth": 2.5}, "encoding": {"x": {"field": "x", "type": "quantitative", "axis": null}, "y": {"field": "lo", "type": "quantitative", "axis": null}, "y2": {"field": "hi"}, "stroke": {"field": "s", "type": "nominal", "legend": null}}},
   {"data": {"name": "pt"}, "transform": [{"filter": "datum.p == 'G'"}], "mark": {"type": "point", "shape": "circle", "filled": false, "fill": "white", "size": 55, "strokeWidth": 2, "opacity": 1}, "encoding": {"x": {"field": "x", "type": "quantitative", "axis": null}, "y": {"field": "y", "type": "quantitative", "axis": {"orient": "right", "values": [90,100,110], "labelExpr": "datum.value == 110 ? '100' : datum.value == 100 ? '80' : '60'", "title": "Heart rate (bpm)", "titleAngle": 270, "titleBaseline": "top", "titleX": 30}}, "stroke": {"field": "s", "type": "nominal", "legend": null}}},
   {"data": {"name": "st"}, "transform": [{"filter": "datum.p == 'G' && datum.s == 'sm'"}], "mark": {"type": "point", "shape": "M-0.18,-1L0.18,-1L0.18,1L-0.18,1ZM0.776,-0.656L0.956,-0.344L-0.776,0.656L-0.956,0.344ZM-0.956,-0.344L-0.776,-0.656L0.956,0.344L0.776,0.656Z", "filled": true, "size": 100, "strokeWidth": 0, "opacity": 1}, "encoding": {"x": {"field": "x", "type": "quantitative", "axis": null}, "y": {"field": "y", "type": "quantitative", "axis": null}, "fill": {"field": "s", "type": "nominal", "legend": null}}},
   {"data": {"name": "st"}, "transform": [{"filter": "datum.p == 'G' && datum.s == 'sc'"}], "mark": {"type": "point", "filled": true, "color": "#0000ff", "size": 100, "strokeWidth": 0, "opacity": 1}, "encoding": {"x": {"field": "x", "type": "quantitative", "axis": null}, "y": {"field": "y", "type": "quantitative", "axis": null}, "shape": {"field": "s", "type": "nominal", "legend": null}}}
  ],
  "resolve": {"axis": {"x": "independent", "y": "independent"}}
 },
 {"width": 237, "height": 165,
  "title": {"text": "D", "anchor": "start", "frame": "group", "dx": -93, "dy": 27, "baseline": "top", "fontSize": 19, "fontWeight": "bold", "offset": 0, "color": "black"},
  "layer": [
   {"data": {"name": "gy"}, "mark": {"type": "rect", "color": "#b3b1a6"}, "encoding": {"x": {"field": "a", "type": "quantitative", "scale": {"domain": [-31, 700], "nice": false, "zero": false}, "axis": {"orient": "top", "values": [0,60,120,180,240,300,360,420,480,540,600,660], "labels": false, "title": null}}, "x2": {"field": "b"}}},
   {"data": {"name": "cv"}, "transform": [{"filter": "datum.p == 'D'"}, {"fold": ["r","m","b"], "as": ["s","y"]}], "mark": {"type": "line", "interpolate": "catmull-rom", "strokeWidth": 2.5, "clip": true}, "encoding": {"x": {"field": "x", "type": "quantitative", "axis": {"orient": "bottom", "values": [0,60,120,180,240,300,360,420,480,540,600,660], "labelExpr": "datum.value % 120 == 0 ? '' + (datum.value % 360) : ''", "title": "Circadian phase (degree)", "titleX": 126, "titlePadding": 6}}, "y": {"field": "y", "type": "quantitative", "scale": {"domain": [50, 150], "nice": false, "zero": false}, "axis": {"orient": "left", "values": [50,100,150], "title": "HF (% of mean)", "titleAngle": 270, "titleBaseline": "bottom", "titleX": -38}}, "stroke": {"field": "s", "type": "nominal", "legend": null}}},
   {"data": {"name": "pt"}, "transform": [{"filter": "datum.p == 'D'"}], "mark": {"type": "rule", "strokeWidth": 2.5}, "encoding": {"x": {"field": "x", "type": "quantitative", "axis": null}, "y": {"field": "lo", "type": "quantitative", "axis": null}, "y2": {"field": "hi"}, "stroke": {"field": "s", "type": "nominal", "legend": null}}},
   {"data": {"name": "pt"}, "transform": [{"filter": "datum.p == 'D'"}], "mark": {"type": "point", "shape": "circle", "filled": false, "fill": "white", "size": 55, "strokeWidth": 2, "opacity": 1}, "encoding": {"x": {"field": "x", "type": "quantitative", "axis": null}, "y": {"field": "y", "type": "quantitative", "axis": {"orient": "right", "values": [50,100,150], "labelExpr": "datum.value == 150 ? '1500' : datum.value == 100 ? '1000' : '500'", "title": "HF (ms2)", "titleAngle": 270, "titleBaseline": "top", "titleX": 46}}, "stroke": {"field": "s", "type": "nominal", "legend": null}}},
   {"data": {"name": "st"}, "transform": [{"filter": "datum.p == 'D' && datum.s == 'sm'"}], "mark": {"type": "point", "shape": "M-0.18,-1L0.18,-1L0.18,1L-0.18,1ZM0.776,-0.656L0.956,-0.344L-0.776,0.656L-0.956,0.344ZM-0.956,-0.344L-0.776,-0.656L0.956,0.344L0.776,0.656Z", "filled": true, "size": 100, "strokeWidth": 0, "opacity": 1}, "encoding": {"x": {"field": "x", "type": "quantitative", "axis": null}, "y": {"field": "y", "type": "quantitative", "axis": null}, "fill": {"field": "s", "type": "nominal", "legend": null}}},
   {"data": {"name": "st"}, "transform": [{"filter": "datum.p == 'D' && datum.s == 'sc'"}], "mark": {"type": "point", "filled": true, "color": "#0000ff", "size": 100, "strokeWidth": 0, "opacity": 1}, "encoding": {"x": {"field": "x", "type": "quantitative", "axis": null}, "y": {"field": "y", "type": "quantitative", "axis": null}, "shape": {"field": "s", "type": "nominal", "legend": null}}}
  ],
  "resolve": {"axis": {"x": "independent", "y": "independent"}}
 },
 {"width": 237, "height": 165,
  "title": {"text": "H", "anchor": "start", "frame": "group", "dx": -62, "dy": 27, "baseline": "top", "fontSize": 19, "fontWeight": "bold", "offset": 0, "color": "black"},
  "layer": [
   {"data": {"name": "gy"}, "mark": {"type": "rect", "color": "#b3b1a6"}, "encoding": {"x": {"field": "a", "type": "quantitative", "scale": {"domain": [-31, 700], "nice": false, "zero": false}, "axis": {"orient": "top", "values": [0,60,120,180,240,300,360,420,480,540,600,660], "labels": false, "title": null}}, "x2": {"field": "b"}}},
   {"data": {"name": "cv"}, "transform": [{"filter": "datum.p == 'H'"}, {"fold": ["r","m","b"], "as": ["s","y"]}], "mark": {"type": "line", "interpolate": "catmull-rom", "strokeWidth": 2.5, "clip": true}, "encoding": {"x": {"field": "x", "type": "quantitative", "axis": {"orient": "bottom", "values": [0,60,120,180,240,300,360,420,480,540,600,660], "labelExpr": "datum.value % 120 == 0 ? '' + (datum.value % 360) : ''", "title": "Circadian phase (degree)", "titleX": 126, "titlePadding": 6}}, "y": {"field": "y", "type": "quantitative", "scale": {"domain": [41, 160], "nice": false, "zero": false}, "axis": {"orient": "left", "values": [50,100,150], "title": ["Cortisol", "(% mean)", "\u00a0\u00a0\u00a0\u00a0\u00a0\u00a0Less\u00a0\u00a0\u00a0\u00a0\u00a0\u00a0\u00a0\u00a0\u00a0\u00a0\u00a0More"], "titleAngle": 270, "titleBaseline": "bottom", "titleX": -83}}, "stroke": {"field": "s", "type": "nominal", "legend": null}}},
   {"data": {"name": "pt"}, "transform": [{"filter": "datum.p == 'H'"}], "mark": {"type": "rule", "strokeWidth": 2.5}, "encoding": {"x": {"field": "x", "type": "quantitative", "axis": null}, "y": {"field": "lo", "type": "quantitative", "axis": null}, "y2": {"field": "hi"}, "stroke": {"field": "s", "type": "nominal", "legend": null}}},
   {"data": {"name": "pt"}, "transform": [{"filter": "datum.p == 'H'"}], "mark": {"type": "point", "shape": "circle", "filled": false, "fill": "white", "size": 55, "strokeWidth": 2, "opacity": 1}, "encoding": {"x": {"field": "x", "type": "quantitative", "axis": null}, "y": {"field": "y", "type": "quantitative", "axis": {"orient": "right", "values": [50,100,150], "labelExpr": "datum.value == 150 ? '12' : datum.value == 100 ? '8' : '4'", "title": "Cortisol (pg/dl)", "titleAngle": 270, "titleBaseline": "top", "titleX": 38}}, "stroke": {"field": "s", "type": "nominal", "legend": null}}},
   {"data": {"name": "st"}, "transform": [{"filter": "datum.p == 'H' && datum.s == 'sc'"}], "mark": {"type": "point", "filled": true, "color": "#0000ff", "size": 100, "strokeWidth": 0, "opacity": 1}, "encoding": {"x": {"field": "x", "type": "quantitative", "axis": null}, "y": {"field": "y", "type": "quantitative", "axis": null}, "shape": {"field": "s", "type": "nominal", "legend": null}}}
  ],
  "resolve": {"axis": {"x": "independent", "y": "independent"}}
 }
]
}
